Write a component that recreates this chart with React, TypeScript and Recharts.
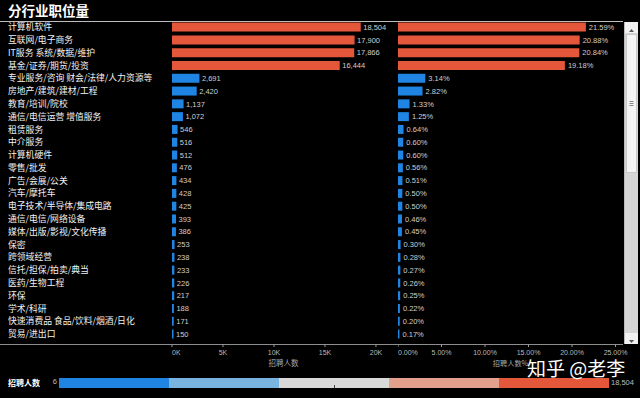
import React from 'react';
import { BarChart, Bar, XAxis, YAxis, Cell, LabelList, Label } from 'recharts';

const categories = [
  '计算机软件',
  '互联网/电子商务',
  'IT服务 系统/数据/维护',
  '基金/证券/期货/投资',
  '专业服务/咨询 财会/法律/人力资源等',
  '房地产/建筑/建材/工程',
  '教育/培训/院校',
  '通信/电信运营 增值服务',
  '租赁服务',
  '中介服务',
  '计算机硬件',
  '零售/批发',
  '广告/会展/公关',
  '汽车/摩托车',
  '电子技术/半导体/集成电路',
  '通信/电信/网络设备',
  '媒体/出版/影视/文化传播',
  '保密',
  '跨领域经营',
  '信托/担保/拍卖/典当',
  '医药/生物工程',
  '环保',
  '学术/科研',
  '快速消费品 食品/饮料/烟酒/日化',
  '贸易/进出口',
];

const counts = [
  18504, 17900, 17866, 16444, 2691, 2420, 1137, 1072, 546, 516, 512, 476, 434,
  428, 425, 393, 386, 253, 238, 233, 226, 217, 188, 171, 150,
];

const shares = [
  21.59, 20.88, 20.84, 19.18, 3.14, 2.82, 1.33, 1.25, 0.64, 0.6, 0.6, 0.56, 0.51,
  0.5, 0.5, 0.46, 0.45, 0.3, 0.28, 0.27, 0.26, 0.25, 0.22, 0.2, 0.17,
];

const countTicks = [0, 5000, 10000, 15000, 20000];
const shareTicks = [0, 5, 10, 15, 20, 25];
const legendColors = ['#1f84e2', '#79b3df', '#d9d9d9', '#e2a08d', '#e5573b'];
const legendMin = 6;
const legendMax = 18504;

const data = categories.map((name, i) => ({ name, count: counts[i], share: shares[i] }));

const colorFor = (v: number) => {
  const step = (legendMax - legendMin) / legendColors.length;
  const idx = Math.min(legendColors.length - 1, Math.max(0, Math.floor((v - legendMin) / step)));
  return legendColors[idx];
};

const CJK = '"Noto Sans CJK SC", "Noto Sans", sans-serif';
const NUM = '"Liberation Sans", Arial, sans-serif';

const PLOT_TOP = 20.6;
const PLOT_BOTTOM = 340.4;
const H = 398;
const XAXIS_H = 30;
const BOTTOM_MARGIN = H - PLOT_BOTTOM - XAXIS_H;

const NameTick = (props: any) => {
  const { y, payload } = props;
  return (
    <text x={8} y={y} dy="0.36em" textAnchor="start" fill="#f2f2f2" fontSize={8.8} fontFamily={CJK}>
      {payload.value}
    </text>
  );
};

const makeTick = (fmt: (v: number) => string) => (props: any) => {
  const { x, y, payload, index } = props;
  return (
    <g>
      <line x1={x} x2={x} y1={y + 3.8} y2={y + 6.6} stroke="#9a9a9a" strokeWidth={1} />
      <text
        x={x}
        y={y + 14.8}
        textAnchor={index === 0 ? 'start' : 'middle'}
        fill="#b8b8b8"
        fontSize={7}
        fontFamily={NUM}
      >
        {fmt(payload.value)}
      </text>
    </g>
  );
};

const CountTick = makeTick((v) => `${Math.round(v / 1000)}K`);
const ShareTick = makeTick((v) => `${v.toFixed(2)}%`);

export default function App() {
  return (
    <div
      style={{
        position: 'absolute',
        left: 0,
        top: 0,
        width: 640,
        height: H,
        background: '#000',
        overflow: 'hidden',
      }}
    >
      {/* decorations */}
      <svg width={640} height={H} style={{ position: 'absolute', left: 0, top: 0 }}>
        <text x={8} y={15.5} fill="#ffffff" fontSize={13.5} fontWeight="bold" fontFamily={CJK}>
          分行业职位量
        </text>
        <line x1={0} x2={623} y1={21.5} y2={21.5} stroke="#bdbdbd" strokeWidth={1} />
        <line x1={0} x2={623} y1={344.5} y2={344.5} stroke="#8e8e8e" strokeWidth={1} />
        <text x={8} y={386} fill="#ffffff" fontSize={8} fontWeight="bold" fontFamily={CJK}>
          招聘人数
        </text>
        <text x={57} y={384} textAnchor="end" fill="#bdbdbd" fontSize={7.5} fontFamily={NUM}>
          {legendMin}
        </text>
        {legendColors.map((c, i) => (
          <rect key={i} x={59 + i * 110} y={378} width={110} height={10} fill={c} />
        ))}
        <line x1={334.5} x2={334.5} y1={385} y2={388} stroke="#444" strokeWidth={1} />
        <text x={611} y={385} fill="#bdbdbd" fontSize={7.5} fontFamily={NUM}>
          {legendMax.toLocaleString('en-US')}
        </text>
      </svg>

      <div style={{ position: 'absolute', left: 0, top: 0 }}>
        <BarChart
          width={395}
          height={H}
          data={data}
          layout="vertical"
          margin={{ top: PLOT_TOP, right: 0, bottom: BOTTOM_MARGIN, left: 0 }}
          barCategoryGap={0}
        >
          <XAxis
            type="number"
            dataKey="count"
            domain={[0, 21863]}
            ticks={countTicks}
            interval={0}
            height={XAXIS_H}
            axisLine={false}
            tickLine={false}
            tickSize={0}
            tickMargin={0}
            tick={<CountTick />}
            allowDataOverflow
          >
            <Label value="招聘人数" position="insideBottom" offset={4} fill="#a8a8a8" fontSize={7.5} fontFamily={CJK} />
          </XAxis>
          <YAxis
            type="category"
            dataKey="name"
            width={172}
            axisLine={false}
            tickLine={false}
            tick={<NameTick />}
            interval={0}
          />
          <Bar dataKey="count" barSize={9} isAnimationActive={false}>
            {data.map((d, i) => (
              <Cell key={i} fill={colorFor(d.count)} />
            ))}
            <LabelList
              dataKey="count"
              position="right"
              offset={2.5}
              formatter={(v: any) => Number(v).toLocaleString('en-US')}
              fill="#cfcfcf"
              fontSize={7.5}
              fontFamily={NUM}
            />
          </Bar>
        </BarChart>
      </div>

      <div style={{ position: 'absolute', left: 398, top: 0 }}>
        <BarChart
          width={242}
          height={H}
          data={data}
          layout="vertical"
          margin={{ top: PLOT_TOP, right: 17, bottom: BOTTOM_MARGIN, left: 0 }}
          barCategoryGap={0}
        >
          <XAxis
            type="number"
            dataKey="share"
            domain={[0, 25.86]}
            ticks={shareTicks}
            interval={0}
            height={XAXIS_H}
            axisLine={false}
            tickLine={false}
            tickSize={0}
            tickMargin={0}
            tick={<ShareTick />}
            allowDataOverflow
          >
            <Label value="招聘人数%" position="insideBottom" offset={4} fill="#a8a8a8" fontSize={7.2} fontFamily={CJK} />
          </XAxis>
          <YAxis type="category" dataKey="name" hide />
          <Bar dataKey="share" barSize={9} isAnimationActive={false}>
            {data.map((d, i) => (
              <Cell key={i} fill={colorFor(d.count)} />
            ))}
            <LabelList
              dataKey="share"
              position="right"
              offset={3}
              formatter={(v: any) => `${Number(v).toFixed(2)}%`}
              fill="#cfcfcf"
              fontSize={7.5}
              fontFamily={NUM}
            />
          </Bar>
        </BarChart>
      </div>

      {/* scrollbar */}
      <div
        style={{
          position: 'absolute',
          left: 624,
          top: 22,
          width: 14,
          height: 322,
          background: '#d6d6d6',
          borderLeft: '1px solid #bbb',
          boxSizing: 'border-box',
        }}
      >
        <div style={{ position: 'absolute', left: 0, top: 0, width: 13, height: 11, background: '#f2f2f2' }}>
          <svg width={13} height={11}>
            <polygon points="4,7 9,7 6.5,4" fill="#555" />
          </svg>
        </div>
        <div
          style={{
            position: 'absolute',
            left: 1,
            top: 12,
            width: 11,
            height: 139,
            background: '#f4f4f4',
            border: '1px solid #c8c8c8',
            boxSizing: 'border-box',
          }}
        >
          <svg width={9} height={137}>
            <line x1={2.5} x2={6.5} y1={66.5} y2={66.5} stroke="#888" />
            <line x1={2.5} x2={6.5} y1={68.5} y2={68.5} stroke="#888" />
            <line x1={2.5} x2={6.5} y1={70.5} y2={70.5} stroke="#888" />
          </svg>
        </div>
        <div style={{ position: 'absolute', left: 0, bottom: 0, width: 13, height: 11, background: '#f2f2f2' }}>
          <svg width={13} height={11}>
            <polygon points="4,4 9,4 6.5,7" fill="#555" />
          </svg>
        </div>
      </div>

      {/* watermark */}
      <div
        style={{
          position: 'absolute',
          left: 527,
          top: 359,
          fontSize: 19,
          lineHeight: '18px',
          color: '#ffffff',
          fontFamily: CJK,
          whiteSpace: 'nowrap',
        }}
      >
        知乎 @老李
      </div>
    </div>
  );
}
